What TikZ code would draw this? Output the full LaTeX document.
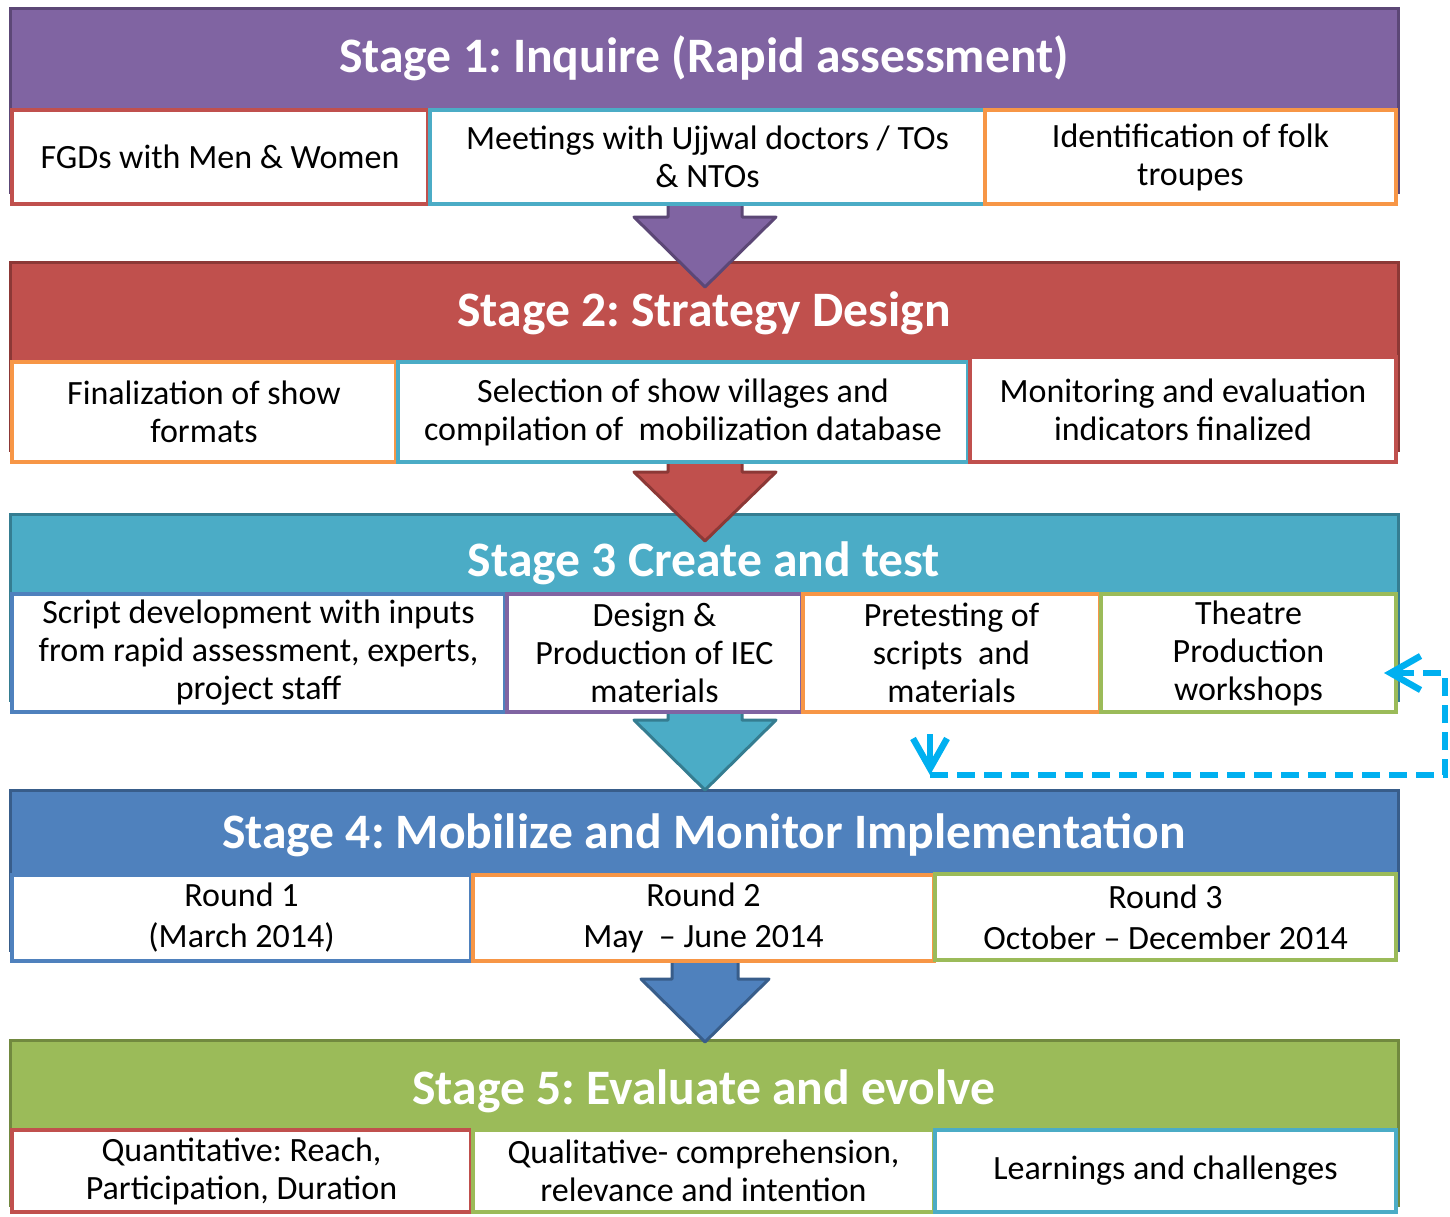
\documentclass[tikz,border=0pt]{standalone}
\usepackage{fontspec}
\setmainfont{Carlito}
\frenchspacing
\usetikzlibrary{arrows.meta}
\definecolor{cpur}{HTML}{8064A2}\definecolor{dpur}{HTML}{5C4776}
\definecolor{cred}{HTML}{C0504D}\definecolor{dred}{HTML}{8C3836}
\definecolor{cteal}{HTML}{4BACC6}\definecolor{dteal}{HTML}{357D91}
\definecolor{cblue}{HTML}{4F81BD}\definecolor{dblue}{HTML}{385D8A}
\definecolor{cgreen}{HTML}{9BBB59}\definecolor{dgreen}{HTML}{71893F}
\definecolor{corange}{HTML}{F79646}
\definecolor{ccyan}{HTML}{00B0F0}
\begin{document}
\begin{tikzpicture}[x=0.5pt,y=-0.5pt,
  hdr/.style n args={2}{fill=#1,draw=#2,line width=1.5pt,inner sep=0pt,minimum width=694pt},
  cell/.style={draw=#1,fill=white,line width=2pt,inner sep=0pt,align=center,font=\fontsize{17}{19}\selectfont},
  ttl/.style={text=white,anchor=base,inner sep=0pt,font=\fontsize{24.8}{28}\selectfont\bfseries},
  blk/.style n args={2}{fill=#1,draw=#2,line width=1.5pt,line join=round},
  cyanline/.style={draw=ccyan,line width=2.8pt,-{Straight Barb[length=15pt,width=17pt,line width=0pt 1.15]}}
]
\useasboundingbox (0,0) rectangle (1450,1216);
% stage headers
\node[hdr={cpur}{dpur},minimum height=92pt] (s1) at (704,100) {};
\node[hdr={cred}{dred},minimum height=94pt] (s2) at (704,356) {};
\node[hdr={cteal}{dteal},minimum height=93pt] (s3) at (704,607) {};
\node[hdr={cblue}{dblue},minimum height=80pt] (s4) at (704,870) {};
\node[hdr={cgreen}{dgreen},minimum height=82.5pt] (s5) at (704,1122.5) {};
% block arrows
\draw[blk={cpur}{dpur}] (668,200)--(742,200)--(742,217)--(776,217)--(705,287)--(634,217)--(668,217)--cycle;
\draw[blk={cred}{dred}] (668,458)--(742,458)--(742,472)--(776,472)--(705,541)--(634,472)--(668,472)--cycle;
\draw[blk={cteal}{dteal}] (668,708)--(742,708)--(742,720)--(776,720)--(705,790)--(634,720)--(668,720)--cycle;
\draw[blk={cblue}{dblue}] (672,956)--(738,956)--(738,979)--(769,979)--(705,1042)--(641,979)--(672,979)--cycle;
% stage 1 cells
\node[cell=cred,minimum width=208pt,minimum height=47pt] (b11) at (220,157) {FGDs with Men \& Women};
\node[cell=cteal,minimum width=277.5pt,minimum height=47pt] (b12) at (707.5,157) {Meetings with Ujjwal doctors / TOs\\\& NTOs};
\node[cell=corange,minimum width=205.5pt,minimum height=47pt] (b13) at (1190.5,157) {Identification of folk\\troupes};
% stage 2 cells
\node[cell=corange,minimum width=192pt,minimum height=50pt] (b21) at (204,412) {Finalization of show\\formats};
\node[cell=cteal,minimum width=285pt,minimum height=50pt] (b22) at (683,412) {Selection of show villages and\\compilation of\ \ mobilization database};
\node[cell=cred,minimum width=213pt,minimum height=52.5pt] (b23) at (1183,409.5) {Monitoring and evaluation\\indicators finalized};
% stage 3 cells
\node[cell=cblue,minimum width=246.5pt,minimum height=59pt] (b31) at (258.5,653) {Script development with inputs\\from rapid assessment, experts,\\project staff};
\node[cell=cpur,minimum width=147.5pt,minimum height=59pt] (b32) at (654.5,653) {Design \&\\Production of IEC\\materials};
\node[cell=corange,minimum width=148.5pt,minimum height=59pt] (b33) at (951.5,653) {Pretesting of\\scripts\ \ and\\materials};
\node[cell=cgreen,minimum width=147.5pt,minimum height=59pt] (b34) at (1248.5,653) {Theatre\\Production\\workshops};
% stage 4 cells
\node[cell=cblue,minimum width=229.5pt,minimum height=43pt,font=\fontsize{17}{20.5}\selectfont] (b41) at (241.5,918) {Round 1\\(March 2014)};
\node[cell=corange,minimum width=230.5pt,minimum height=43pt,font=\fontsize{17}{20.5}\selectfont] (b42) at (703.5,918) {Round 2\\May\ \ -- June 2014};
\node[cell=cgreen,minimum width=230.5pt,minimum height=43pt,font=\fontsize{17}{20.5}\selectfont] (b43) at (1165.5,917) {Round 3\\October -- December 2014};
% stage 5 cells
\node[cell=cred,minimum width=229.5pt,minimum height=41pt] (b51) at (241.5,1171) {Quantitative: Reach,\\Participation, Duration};
\node[cell=cgreen,minimum width=230.5pt,minimum height=41pt] (b52) at (703.5,1171) {Qualitative- comprehension,\\relevance and intention};
\node[cell=cteal,minimum width=230.5pt,minimum height=41pt] (b53) at (1165.5,1171) {Learnings and challenges};
% titles
\node[ttl] (t1) at (704,72) {Stage 1: Inquire (Rapid assessment)};
\node[ttl] (t2) at (704,326) {Stage 2: Strategy Design};
\node[ttl] (t3) at (704,576) {Stage 3 Create and test};
\node[ttl] (t4) at (704,848) {Stage 4: Mobilize and Monitor Implementation};
\node[ttl] (t5) at (704,1104) {Stage 5: Evaluate and evolve};
% feedback connector
\coordinate (dtop) at (930,734);
\coordinate (dstart) at (930,775);
\coordinate (dend) at (1384,673);
\draw[cyanline] (dtop) -- (dstart);
\draw[cyanline,dash pattern=on 9pt off 4.5pt] (dstart) -| (1445,673) -- (dend);
\end{tikzpicture}
\end{document}
